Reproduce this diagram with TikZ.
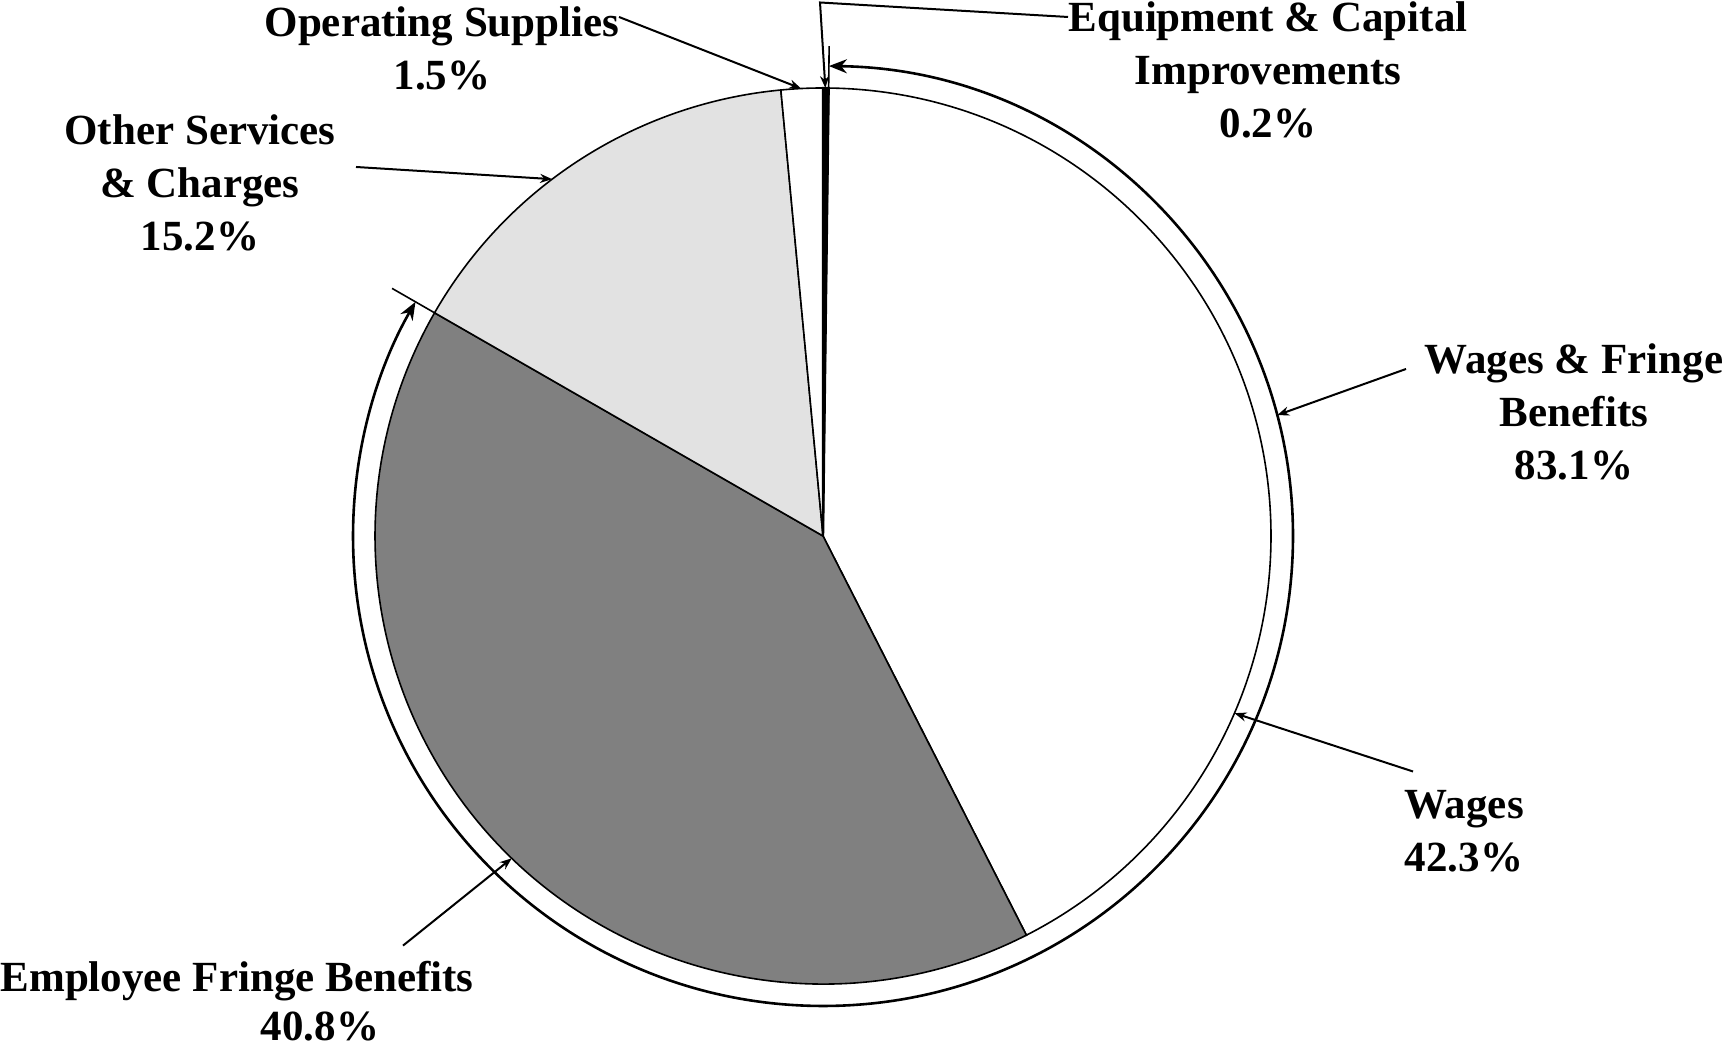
\documentclass[tikz,border=0pt]{standalone}
\usepackage{fontspec}
\setmainfont{Liberation Serif}
\usetikzlibrary{arrows.meta,calc}
\definecolor{fringegray}{RGB}{128,128,128}
\definecolor{othergray}{RGB}{226,226,226}
\tikzstyle{lbl}=[font=\bfseries\fontsize{21.5}{26.5}\selectfont, align=center, inner sep=0pt]
\tikzstyle{pointer}=[line width=1pt, -{Stealth[length=6pt, width=4.5pt]}]
\tikzstyle{span}=[line width=1.3pt, {Stealth[length=9pt, width=7pt]}-{Stealth[length=9pt, width=7pt]}]

\begin{document}
\begin{tikzpicture}[x=0.5pt, y=0.5pt, line width=0.8pt]
\useasboundingbox (0,0) rectangle (1733,1047);
\coordinate (c) at (823,511);
\filldraw[fill=white] (c) -- ++(89.28:448) arc (89.28:-63:448) -- cycle;
\filldraw[fill=fringegray] (c) -- ++(-63:448) arc (-63:-209.88:448) -- cycle;
\filldraw[fill=othergray] (c) -- ++(150.12:448) arc (150.12:95.4:448) -- cycle;
\filldraw[fill=white] (c) -- ++(95.4:448) arc (95.4:90:448) -- cycle;
\filldraw[fill=black, line width=1.2pt] (c) -- ++(90:448) arc (90:89.28:448) -- cycle;
\coordinate (t1) at ($(c)+(89.28:448)$);
\coordinate (t2) at ($(c)+(150.12:448)$);
\draw (t1) -- ($(c)+(89.28:490)$);
\draw (t2) -- ($(c)+(150.12:497)$);
\draw[span] ($(c)+(89.28:470)$) arc (89.28:-209.88:470);
\node[lbl] (os) at (442,998.5) {Operating Supplies\\1.5\%};
\node[lbl] (eq) at (1268,977) {Equipment \& Capital\\Improvements\\0.2\%};
\node[lbl] (oth) at (200,864) {Other Services\\\& Charges\\15.2\%};
\node[lbl] (wf) at (1574,635) {Wages \& Fringe\\Benefits\\83.1\%};
\node[lbl] (wg) at (1464,215.5) {Wages\\42.3\%};
\node[lbl, anchor=base] (ef) at (237,55.3) {Employee Fringe Benefits};
\node[lbl, anchor=base] (efp) at (320,6) {40.8\%};
\coordinate (p1) at ($(c)+(89.7:448)$);
\coordinate (p2) at ($(c)+(92.8:448)$);
\coordinate (p3) at ($(c)+(127.2:448)$);
\coordinate (p4) at ($(c)+(14.9:470)$);
\coordinate (p5) at ($(c)+(-23.3:448)$);
\coordinate (p6) at ($(c)+(226:448)$);
\draw[pointer] ([shift={(177,31.5)}]os.center) -- (p2);
\draw[pointer] ([shift={(-200,53)}]eq.center) -- ++(-248,14.5) -- (p1);
\draw[pointer] ([shift={(156,16)}]oth.center) -- (p3);
\draw[pointer] ([shift={(-168,43)}]wf.center) -- (p4);
\draw[pointer] ([shift={(-51,60)}]wg.center) -- (p5);
\draw[pointer] ([shift={(166,15)}]ef.north) -- (p6);
\end{tikzpicture}
\end{document}
